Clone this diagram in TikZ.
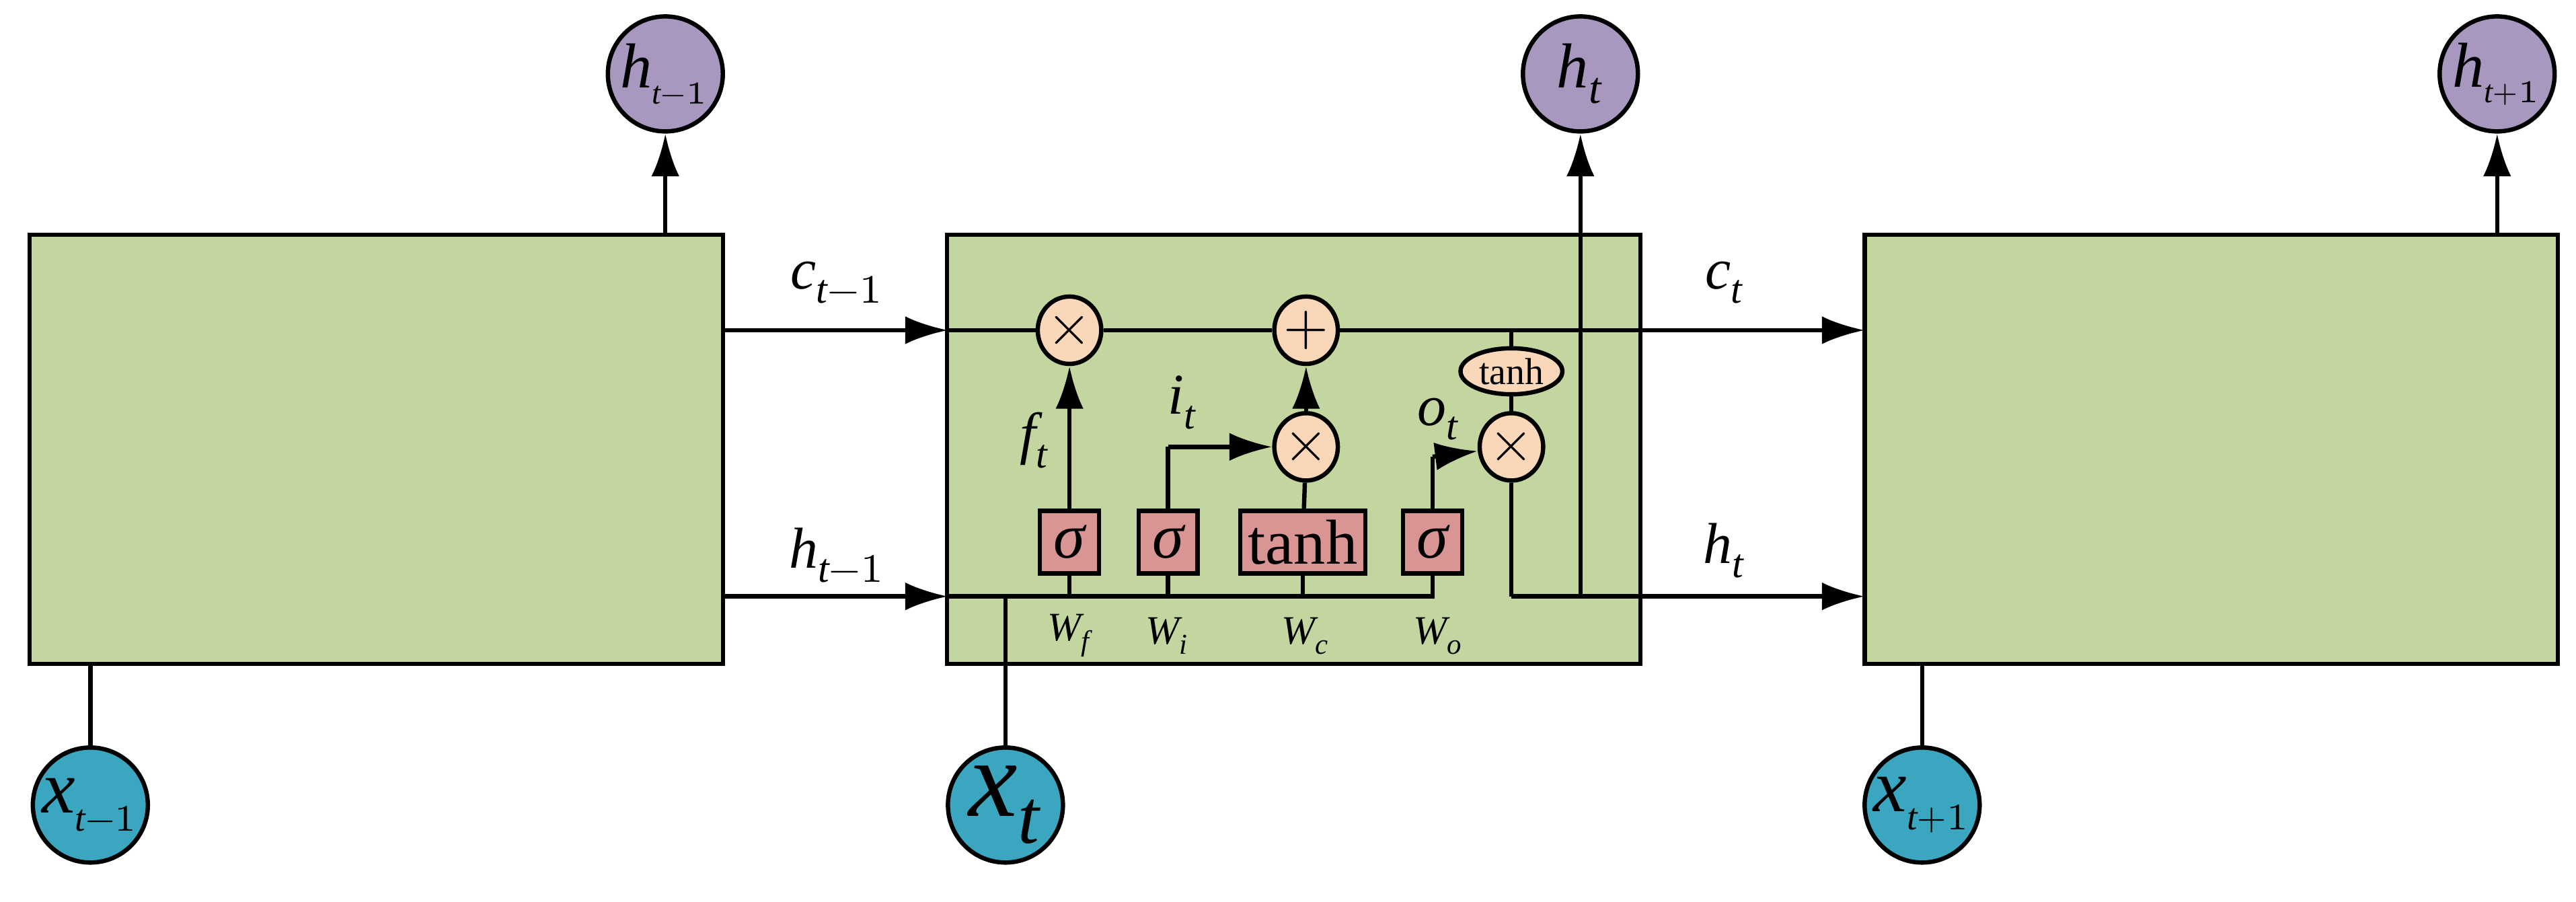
\documentclass[tikz,border=0pt]{standalone}
\usepackage{fontspec}
\setmainfont{Liberation Serif}
\usepackage{unicode-math}
\setmathfont{Latin Modern Math}
\setmathfont[range={it/{latin,Latin,greek}}]{Liberation Serif Italic}
\usetikzlibrary{
  arrows.meta, % for Latex arrow tip
  shapes.geometric, % for the ellipse nodes
}
\definecolor{cellgreen}{RGB}{196,214,160}
\definecolor{hpurple}{RGB}{168,152,192}
\definecolor{xblue}{RGB}{58,166,192}
\definecolor{oporange}{RGB}{250,215,184}
\definecolor{gatered}{RGB}{217,149,148}
\tikzset{
  cell/.style={ % style for the LSTM cells
    rectangle,draw,line width=0.75pt,fill=cellgreen,
    minimum width=42.2mm,minimum height=26.1mm,inner sep=0pt,
  },
  hout/.style={ % style for the outputs
    circle,draw,line width=0.75pt,fill=hpurple,
    minimum size=7mm,inner sep=0pt,font=\fontsize{11}{11}\selectfont,
  },
  xin/.style={ % style for the inputs
    hout,fill=xblue,
  },
  op/.style={ % style for pointwise operations
    ellipse,draw,line width=0.75pt,fill=oporange,
    minimum width=3.5mm,minimum height=4.1mm,inner sep=0pt,
  },
  gate/.style={ % style for the gate layers
    rectangle,draw,line width=0.75pt,fill=gatered,
    minimum width=3.6mm,minimum height=3.8mm,inner sep=0pt,
    font=\fontsize{11}{11}\selectfont,
  },
  lbl/.style={font=\fontsize{10}{10}\selectfont},
  wlbl/.style={font=\fontsize{7}{7}\selectfont},
  conn/.style={ % style for the connections
    -{Latex[length=2.6mm,width=1.7mm]},line width=0.75pt,
  },
  line/.style={line width=0.75pt},
}
\begin{document}
\begin{tikzpicture}[x=0.1mm,y=-0.1mm]
  \useasboundingbox (0,0) rectangle (1568,549);
  % cells
  \node[cell] (c1) at (229,273.5) {};
  \node[cell] (c2) at (787.5,273.5) {};
  \node[cell] (c3) at (1346,273.5) {};
  % outputs and inputs
  \node[hout] (h1) at (405,45) {$h_{\scriptscriptstyle t-1}$};
  \node[hout] (h2) at (962,45) {$h_{t}$};
  \node[hout] (h3) at (1520,45) {$h_{\scriptscriptstyle t+1}$};
  \node[xin,font=\fontsize{13}{13}\selectfont] (x1) at (55,490) {$x_{\scriptscriptstyle t-1}$};
  \node[xin,font=\fontsize{19}{19}\selectfont] (x2) at (612,490) {$x_{t}$};
  \node[xin,font=\fontsize{13}{13}\selectfont] (x3) at (1170,490) {$x_{\scriptscriptstyle t+1}$};
  % pointwise operations
  \node[op] (mf) at (651,201) {$\times$};
  \node[op] (pl) at (795,201) {$+$};
  \node[op] (mi) at (795,272) {$\times$};
  \node[op] (mo) at (920,272) {$\times$};
  \node[op,minimum width=6.2mm,minimum height=2.8mm,font=\fontsize{6.5}{6.5}\selectfont] (th) at (920,226) {tanh};
  % gate layers
  \node[gate] (gf) at (651,330) {$\sigma$};
  \node[gate] (gi) at (711,330) {$\sigma$};
  \node[gate,minimum width=7.6mm] (gc) at (793,330) {tanh};
  \node[gate] (go) at (872,330) {$\sigma$};
  % junction points
  \coordinate (cin) at (577,201);
  \coordinate (cout) at (1135,201);
  \coordinate (hin) at (577,363);
  \coordinate (hend) at (872,363);
  \coordinate (hout) at (1135,363);
  \coordinate (hsplit) at (962,363);
  \coordinate (xj) at (612,363);
  \coordinate (tj) at (920,201);
  \coordinate (ib) at (711,272);
  \coordinate (ob) at (872,278);
  \coordinate (mob) at (920,363);
  % labels
  \node[lbl] (lc1) at (510,172) {$c_{t-1}$};
  \node[lbl] (lc2) at (1050,172) {$c_{t}$};
  \node[lbl] (lh1) at (510,338) {$h_{t-1}$};
  \node[lbl] (lh2) at (1050,335) {$h_{t}$};
  \node[lbl] (lf) at (630,268) {$f_{t}$};
  \node[lbl] (li) at (720,245) {$i_{t}$};
  \node[lbl] (lo) at (876,255) {$o_{t}$};
  \node[wlbl] (wf) at (651,387) {$W_{f}$};
  \node[wlbl] (wi) at (711,387) {$W_{i}$};
  \node[wlbl] (wc) at (795,387) {$W_{c}$};
  \node[wlbl] (wo) at (876,387) {$W_{o}$};
  % outer connections
  \draw[conn] (c1.north -| h1) -- (h1);
  \draw[conn] (c3.north -| h3) -- (h3);
  \draw[line] (x1) -- (x1 |- c1.south);
  \draw[line] (x3) -- (x3 |- c3.south);
  \draw[line] (x2) -- (xj);
  \draw[conn] (c1.east |- cin) -- (cin);
  \draw[conn] (c1.east |- hin) -- (hin);
  % cell state
  \draw[line] (cin) -- (mf) -- (pl) -- (tj);
  \draw[conn] (tj) -- (cout);
  \draw[line] (tj) -- (th) -- (mo);
  % hidden line and gates
  \draw[line] (hin) -- (hend) -- (go);
  \draw[line] (gf) -- (gf |- hin);
  \draw[line] (gi) -- (gi |- hin);
  \draw[line] (gc) -- (gc |- hin);
  \draw[conn] (gf) -- (mf);
  \draw[line] (gi) -- (ib);
  \draw[conn] (ib) -- (mi);
  \draw[line] (gc) -- (mi);
  \draw[conn] (mi) -- (pl);
  \draw[line] (go) -- (ob);
  \draw[conn] (ob) -- (mo);
  \draw[line] (mo) -- (mob);
  \draw[conn] (mob) -- (hout);
  \draw[conn] (hsplit) -- (h2);
\end{tikzpicture}
\end{document}
